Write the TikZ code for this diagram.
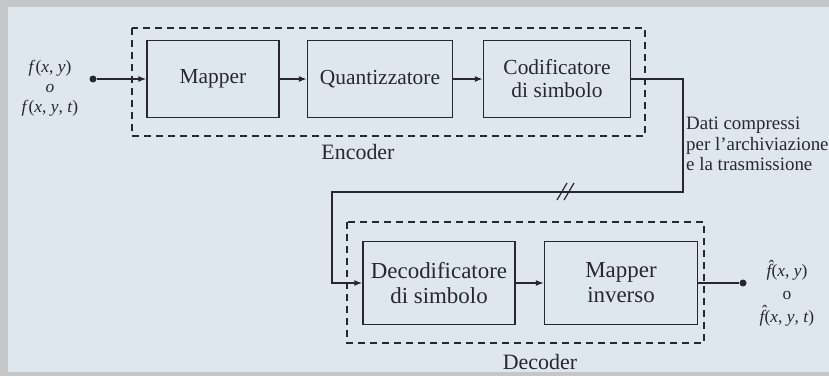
\documentclass[tikz,border=0pt]{standalone}
\usepackage{fontspec}
\setmainfont{Liberation Serif}
\usetikzlibrary{arrows.meta}
\definecolor{bg}{RGB}{222,230,238}
\definecolor{frame}{RGB}{196,198,200}
\definecolor{ink}{RGB}{38,40,48}
\newcommand{\myhatf}{{\itshape\accent"02C6 f}}
\begin{document}
\begin{tikzpicture}[x=1bp,y=-1bp,
  blk/.style={draw=ink, line width=1.4bp, inner sep=0, align=center, text=ink,
              font=\fontsize{21.5}{23}\selectfont},
  blkB/.style={blk, font=\fontsize{23}{25}\selectfont},
  grp/.style={draw=ink, line width=1.4bp, dash pattern=on 7bp off 5bp},
  conn/.style={draw=ink, line width=1.4bp},
  arr/.style={conn, -{Latex[length=8bp,width=6bp]}},
  lbl/.style={text=ink, align=center, inner sep=0},
  dotmark/.style={circle, fill=ink, inner sep=0, minimum size=7bp}]
\fill[frame] (0,0) rectangle (829,376);
\fill[bg] (8,7) rectangle (829,372);
\useasboundingbox (0,0) rectangle (829,376);

% encoder
\draw[grp] (132,28) rectangle (645,136);
\node[blk, minimum width=132bp, minimum height=77bp] (map) at (213,79) {Mapper};
\node[blk, minimum width=145bp, minimum height=77bp] (qua) at (380,79) {Quantizzatore};
\node[blk, minimum width=147bp, minimum height=77bp] (cod) at (557,79) {Codificatore\\di simbolo};
\node[lbl, font=\fontsize{22}{24}\selectfont] (enc) at (358,152) {Encoder};

% decoder
\draw[grp] (347,222) rectangle (704,343);
\node[blkB, minimum width=152bp, minimum height=83bp] (dec) at (439,283) {Decodificatore\\di simbolo};
\node[blkB, minimum width=153bp, minimum height=83bp] (inv) at (621,283) {Mapper\\inverso};
\node[lbl, font=\fontsize{22}{24}\selectfont] (decl) at (540,362) {Decoder};

% input / output
\node[dotmark] (in) at (93,79) {};
\node[lbl, font=\fontsize{17.5}{20}\selectfont] (inl) at (50,88)
  {\textit{f}(\textit{x}, \textit{y})\\\textit{o}\\\textit{f}(\textit{x}, \textit{y}, \textit{t})};
\node[dotmark] (out) at (743,283) {};
\node[lbl, font=\fontsize{17.5}{23}\selectfont] (outl) at (787,293)
  {\myhatf(\textit{x}, \textit{y})\\o\\\myhatf(\textit{x}, \textit{y}, \textit{t})};

\node[lbl, align=left, anchor=west, font=\fontsize{19}{20.5}\selectfont] (dati) at (686,144)
  {Dati compressi\\per l'archiviazione\\e la trasmissione};

% connectors
\draw[arr] (in) -- (map);
\draw[arr] (map) -- (qua);
\draw[arr] (qua) -- (cod);
\coordinate (c1) at (683,192);
\coordinate (c2) at (332,192);
\draw[arr] (cod.east) -| (c1) -- (c2) |- (dec.west);
\draw[arr] (dec) -- (inv);
\draw[conn] (inv.east) -- (out);

% break mark
\draw[conn, line width=1.2bp] (557,200) -- (567,183);
\draw[conn, line width=1.2bp] (564,200) -- (574,183);
\end{tikzpicture}
\end{document}
